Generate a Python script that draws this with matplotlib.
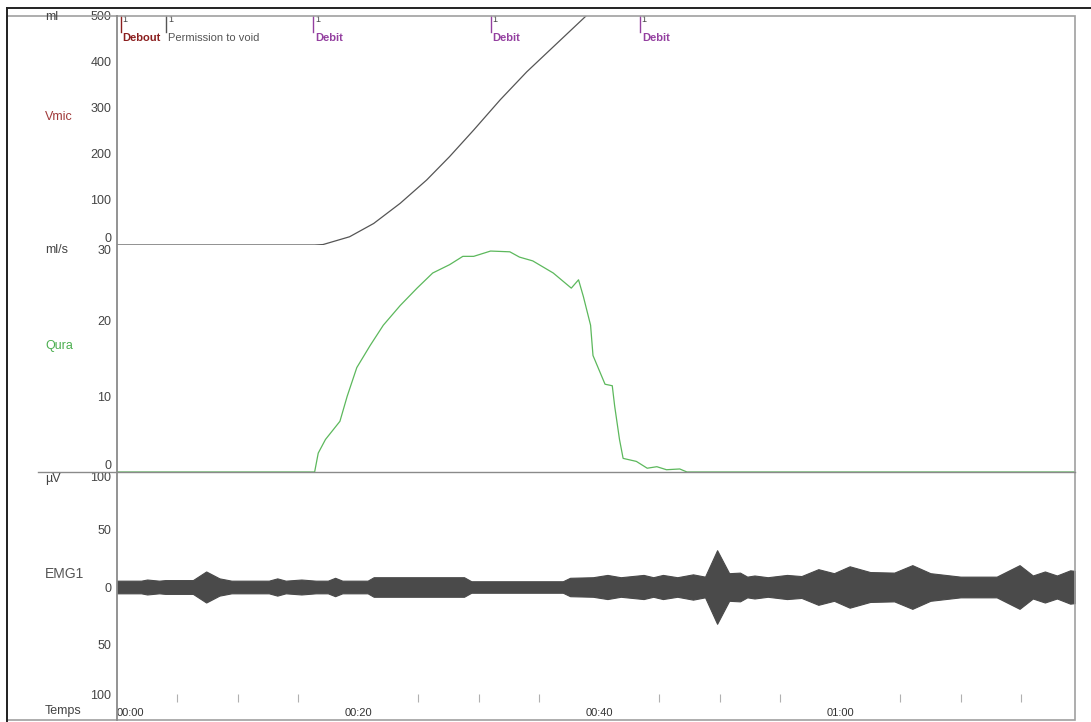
import numpy as np
import matplotlib
matplotlib.use('Agg')
import matplotlib.pyplot as plt
from matplotlib.lines import Line2D
from matplotlib.patches import Rectangle

plt.rcParams['font.family'] = ['Liberation Sans', 'DejaVu Sans']

# Volume mictionnel (ml) vs time (s)
vol_t = [0, 16.4, 17.1, 19.3, 21.3, 23.5, 25.7, 27.6, 29.6, 31.8, 34.0, 36.5, 39.0, 40.0]
vol_ml = [0, 0, 1, 18, 47, 91, 142, 193, 251, 317, 378, 440, 502, 525]

# Debit urinaire (ml/s)
flow_t = [0, 16.4, 16.7, 17.3, 18.5, 19.1, 19.9, 21.0, 22.1, 23.5, 24.9, 26.2, 27.6,
          28.7, 29.6, 31.0, 32.6, 33.4, 34.5, 36.2, 37.7, 38.3, 38.7, 39.3, 39.5,
          40.5, 41.1, 41.3, 41.7, 42.0, 43.1, 44.0, 44.8, 45.6, 46.7, 47.3, 79.5]
flow_q = [0, 0, 2.5, 4.3, 6.7, 10.0, 13.8, 16.7, 19.4, 22.0, 24.3, 26.3, 27.4,
          28.5, 28.5, 29.2, 29.1, 28.4, 27.9, 26.3, 24.3, 25.4, 23.2, 19.4, 15.4,
          11.6, 11.4, 8.7, 4.3, 1.8, 1.4, 0.5, 0.7, 0.3, 0.4, 0, 0]

# EMG1 envelope (half amplitude, uV)
emg_t = [0, 2.0, 2.5, 3.5, 4.0, 6.3, 7.4, 8.5, 9.5, 12.6, 13.3, 14.0, 15.3, 16.5,
         17.5, 18.1, 18.7, 20.8, 21.3, 28.8, 29.4, 37.0, 37.6, 39.5, 40.7, 41.8,
         43.7, 44.5, 45.3, 46.5, 47.8, 48.8, 49.8, 50.8, 51.7, 52.3, 52.9, 54.0,
         55.6, 56.8, 58.2, 59.5, 60.8, 62.5, 64.5, 66.0, 67.5, 70.0, 73.0, 74.9,
         76.0, 77.0, 78.0, 79.1, 79.5]
emg_amp = [5.5, 5.5, 6.5, 5.5, 6.0, 6.0, 13.5, 7.5, 5.5, 5.5, 7.5, 5.5, 6.5, 5.5,
           5.5, 8.0, 5.5, 5.5, 8.5, 8.5, 5.0, 5.0, 8.0, 8.5, 10.5, 8.5,
           10.5, 8.5, 10.5, 8.5, 11.0, 9.0, 32.0, 12.0, 12.5, 9.0, 10.0, 8.5,
           10.5, 9.5, 15.5, 12.0, 18.0, 13.0, 12.5, 19.0, 12.0, 9.0, 9.0, 19.0,
           10.0, 13.5, 10.0, 14.5, 14.0]

# event markers
event_t = [0.3, 4.1, 16.3, 31.0, 43.4]
event_lbl = ['Debout', 'Permission to void', 'Debit', 'Debit', 'Debit']
event_col = ['#8b1f1f', '#555555', '#9440a0', '#9440a0', '#9440a0']
event_bold = [True, False, True, True, True]

time_ticks = [0, 20, 40, 60]
time_lbls = ['00:00', '00:20', '00:40', '01:00']
minor_ticks = [5, 10, 15, 25, 30, 35, 45, 50, 55, 65, 70, 75]

W, H = 1091, 722
fig = plt.figure(figsize=(W / 100, H / 100), dpi=100)


def fx(px):
    return px / W


def fy(py):
    return 1 - py / H


X0, X1 = 117, 1075
TMAX = 79.5


def panel(top, bot):
    ax = fig.add_axes([fx(X0), fy(bot), fx(X1) - fx(X0), (bot - top) / H])
    ax.set_xlim(0, TMAX)
    for s in ax.spines.values():
        s.set_visible(False)
    ax.tick_params(axis='y', length=0, pad=4, labelsize=9, labelcolor='#444444')
    ax.set_xticks([])
    ax.patch.set_alpha(0)
    return ax


ax_v = panel(16, 245)
ax_q = panel(245, 472)
ax_e = panel(472, 702)

# frame
fig.add_artist(Rectangle((fx(7), fy(720)), fx(1075) - fx(7), (720 - 16) / H,
                         transform=fig.transFigure, fill=False, ec='#a0a0a0', lw=1.2))
fig.add_artist(Line2D([fx(7), 1], [fy(8), fy(8)], color='#222222', lw=1.4))
fig.add_artist(Line2D([fx(7), fx(7)], [fy(8), 0], color='#222222', lw=1.4))
fig.add_artist(Line2D([fx(X0), fx(X0)], [fy(16), fy(720)], color='#8a8a8a', lw=1.3))
fig.add_artist(Line2D([fx(38), fx(X1)], [fy(472), fy(472)], color='#8a8a8a', lw=1.0))

# volume
ax_v.plot(vol_t, vol_ml, color='#555555', lw=0.9)
ax_v.set_ylim(0, 500)
ax_v.set_yticks([0, 100, 200, 300, 400, 500])
ax_v.get_yticklabels()[0].set_va('bottom')

for t, lbl, c, b in zip(event_t, event_lbl, event_col, event_bold):
    tr = ax_v.get_xaxis_transform()
    ax_v.plot([t, t], [0.93, 1.0], color=c, lw=1.0, transform=tr, clip_on=False)
    ax_v.text(t + 0.15, 0.983, '1', transform=tr, fontsize=6.5, color='#444444',
              ha='left', va='center')
    ax_v.text(t + 0.15, 0.905, lbl, transform=tr, fontsize=8, color=c,
              ha='left', va='center', fontweight='bold' if b else 'normal')

# flow
ax_q.plot(flow_t, flow_q, color='#5cb85c', lw=0.9)
ax_q.set_ylim(0, 30)
ax_q.set_yticks([0, 10, 20, 30])
ax_q.get_yticklabels()[0].set_va('bottom')
ax_q.get_yticklabels()[-1].set_va('top')

# EMG
amp = np.array(emg_amp)
ax_e.fill_between(emg_t, -amp, amp, color='#4a4a4a', lw=0.8, ec='#4a4a4a')
ax_e.set_ylim(-100, 100)
ax_e.set_yticks([-100, -50, 0, 50, 100])
ax_e.set_yticklabels(['100', '50', '0', '50', '100'])
ax_e.get_yticklabels()[0].set_va('bottom')
ax_e.get_yticklabels()[-1].set_va('top')

ax_e.set_xticks(time_ticks)
ax_e.set_xticklabels(time_lbls)
ax_e.set_xticks(minor_ticks, minor=True)
ax_e.tick_params(axis='x', which='major', length=0, pad=4, labelsize=8, labelcolor='#333333')
ax_e.tick_params(axis='x', which='minor', direction='in', length=6, width=0.8, color='#b0b0b0')
ax_e.get_xticklabels()[0].set_ha('left')

# channel names and units
fig.text(fx(45), fy(17), 'ml', fontsize=9, color='#444444', va='center')
fig.text(fx(45), fy(117), 'Vmic', fontsize=9, color='#a03a3a', va='center')
fig.text(fx(45), fy(250), 'ml/s', fontsize=9, color='#444444', va='center')
fig.text(fx(45), fy(346), 'Qura', fontsize=9, color='#4caf50', va='center')
fig.text(fx(45), fy(479), 'µV', fontsize=9, color='#444444', va='center')
fig.text(fx(45), fy(574), 'EMG1', fontsize=10, color='#555555', va='center')
fig.text(fx(45), fy(711), 'Temps', fontsize=9, color='#444444', va='center')

fig.savefig('out.png', dpi=100)
